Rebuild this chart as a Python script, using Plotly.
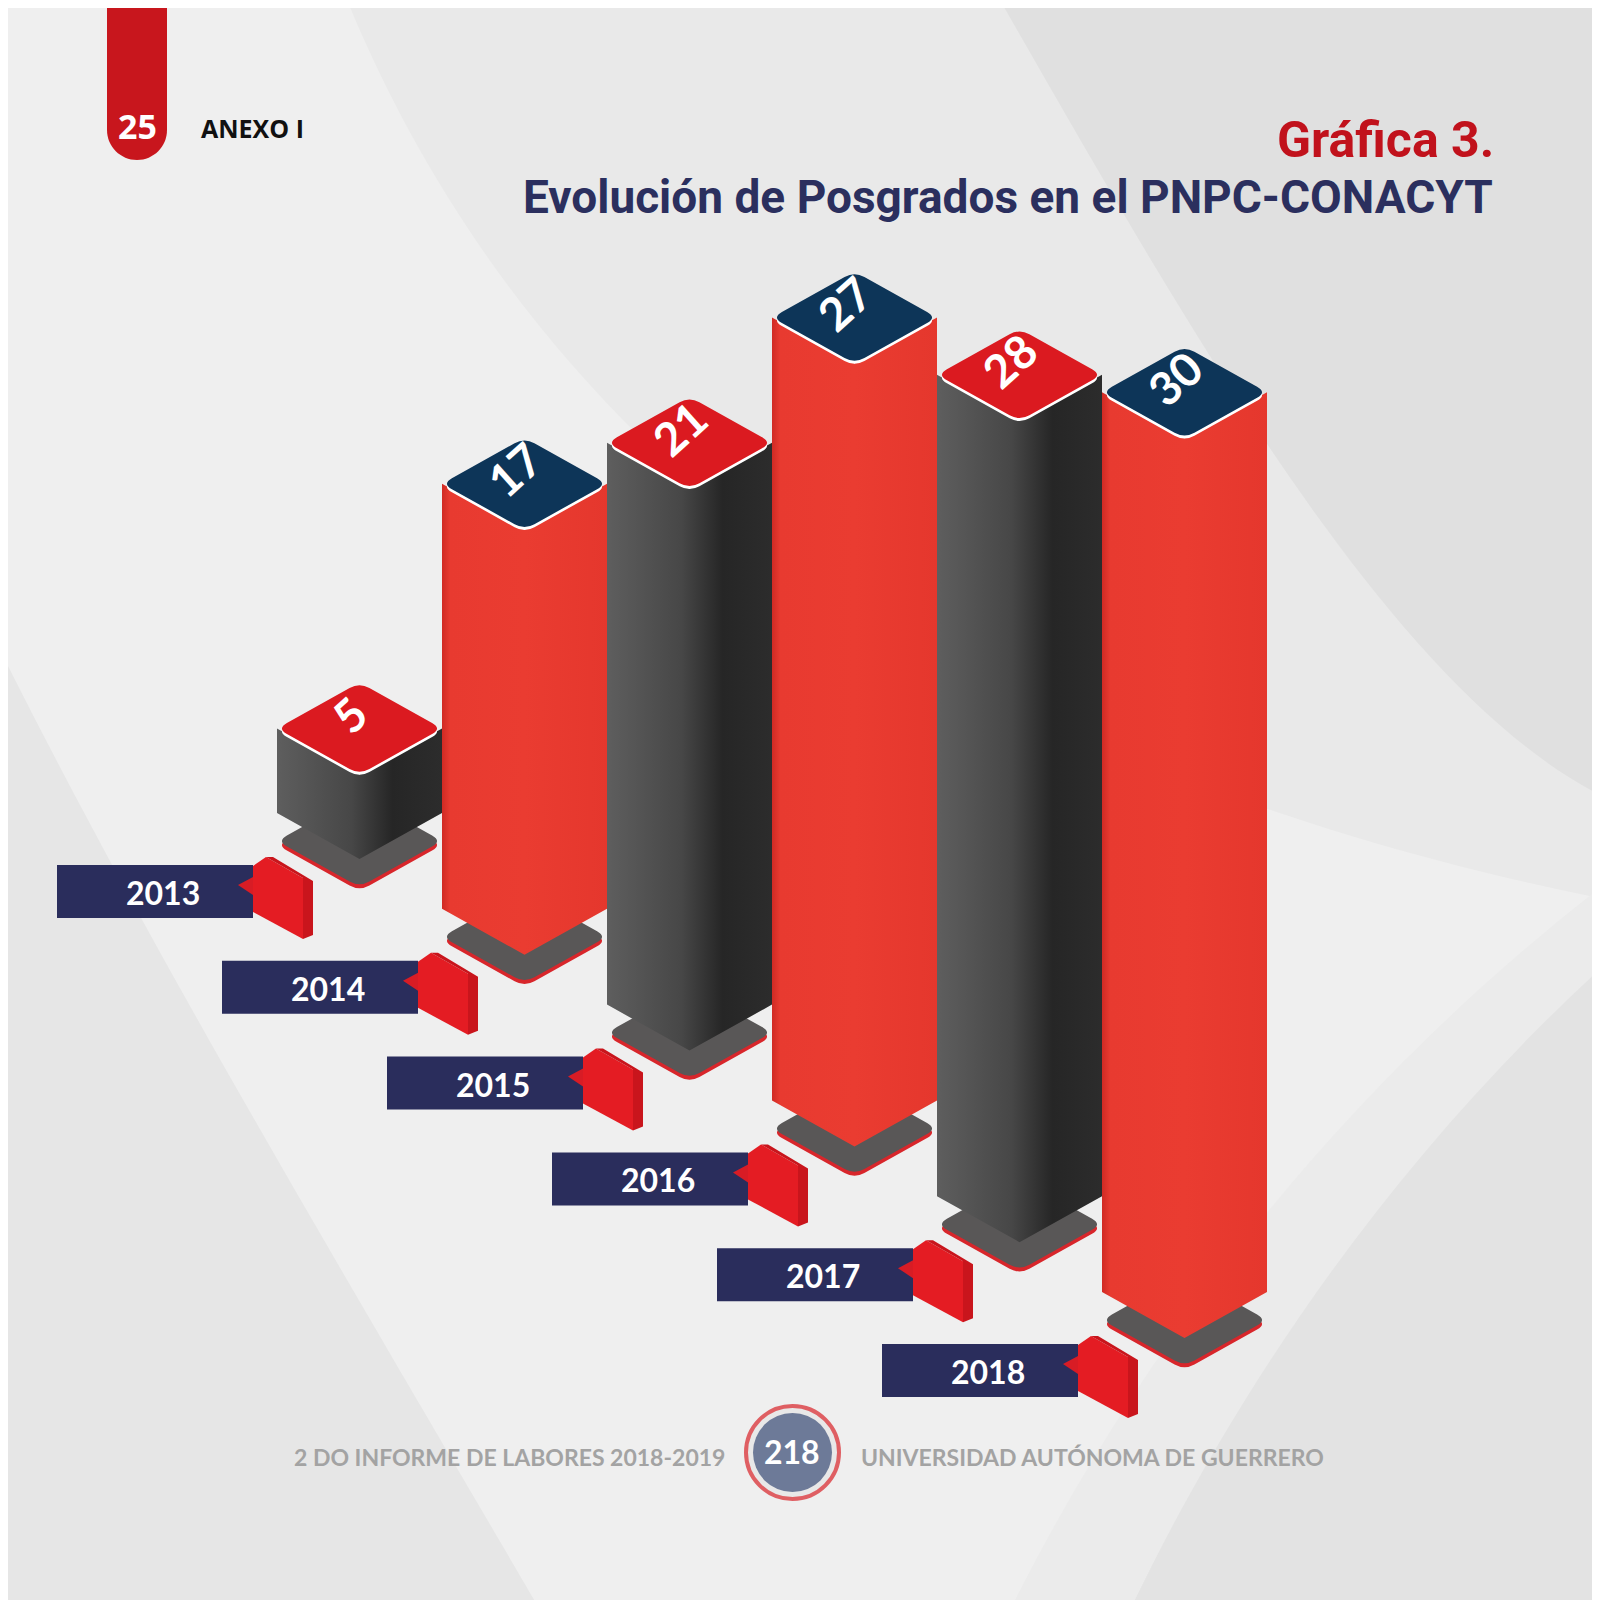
import plotly.graph_objects as go

# data
years = ["2013", "2014", "2015", "2016", "2017", "2018"]
values = [5, 17, 21, 27, 28, 30]

title_top = "Gráfica 3."
title_main = "Evolución de Posgrados en el PNPC-CONACYT"
footer_left = "2 DO INFORME DE LABORES 2018-2019"
footer_right = "UNIVERSIDAD AUTÓNOMA DE GUERRERO"
page_number = "218"
section_number = "25"
section_name = "ANEXO I"

# isometric layout (pixels)
X0, STEP_X = 277, 165
Y0, STEP_Y = 813, 95.8
HW, HH = 82.5, 46
SCALE_A, SCALE_EXP = 10.1, 1.32   # power scale used by the original drawing
PAGE_OFFSET = 8                   # browser body margin

RED = "#e83a30"
NAVY = "#0d3558"
DARK = "#3c3c3c"
LABEL_NAVY = "#2a2d5c"


def height(v):
    return SCALE_A * v ** SCALE_EXP


def rounded_poly(pts, f=0.12):
    # svg path of a polygon with rounded corners
    n = len(pts)
    d = ""
    for k in range(n):
        px, py = pts[k - 1]
        cx, cy = pts[k]
        nx, ny = pts[(k + 1) % n]
        a = (cx + f * (px - cx), cy + f * (py - cy))
        b = (cx + f * (nx - cx), cy + f * (ny - cy))
        d += ("M" if k == 0 else "L") + f"{a[0]:.1f},{a[1]:.1f} Q{cx:.1f},{cy:.1f} {b[0]:.1f},{b[1]:.1f} "
    return d + "Z"


def diamond(cx, cy, hw=HW, hh=HH):
    return [(cx - hw, cy), (cx, cy - hh), (cx + hw, cy), (cx, cy + hh)]


fig = go.Figure()
shapes = []
annotations = []

# background swooshes
shapes.append(dict(type="path", layer="below", line_width=0, fillcolor="#e9e9e9",
                   path="M 347,0 C 520,420 900,760 1610,900 L 1610,0 Z"))
shapes.append(dict(type="path", layer="below", line_width=0, fillcolor="#e0e0e0",
                   path="M 1000,0 C 1200,350 1400,700 1610,800 L 1610,0 Z"))
shapes.append(dict(type="path", layer="below", line_width=0, fillcolor="#e6e6e6",
                   path="M 0,650 C 150,950 330,1250 540,1610 L 0,1610 Z"))
shapes.append(dict(type="path", layer="below", line_width=0, fillcolor="#ebebeb",
                   path="M 1610,880 C 1350,1080 1150,1330 1010,1610 L 1610,1610 Z"))
shapes.append(dict(type="path", layer="below", line_width=0, fillcolor="#e3e3e3",
                   path="M 1610,960 C 1400,1150 1240,1380 1130,1610 L 1610,1610 Z"))

for i, (yr, v) in enumerate(zip(years, values)):
    L = X0 + i * STEP_X
    C = L + HW
    R = L + 2 * HW
    yb = Y0 + i * STEP_Y
    yt = yb - height(v)
    dark_body = i % 2 == 0

    # pedestal plate
    shapes.append(dict(type="path", layer="below", line_width=0, fillcolor="#d8262b",
                       path=rounded_poly(diamond(C, yb + 32))))
    shapes.append(dict(type="path", layer="below", line_width=0, fillcolor="#595757",
                       path=rounded_poly(diamond(C, yb + 28))))

    # bar body
    bx = [L, C, R, R, C, L, L]
    by = [yt, yt + HH, yt, yb, yb + HH, yb, yt]
    if dark_body:
        scale = [[0, "#5e5e5e"], [0.45, "#474747"], [0.7, "#262626"], [1, "#2c2c2c"]]
    else:
        scale = [[0, "#d02a24"], [0.05, "#e83a30"], [0.5, "#ea3c31"], [1, "#e5372d"]]
    fig.add_trace(go.Scatter(x=bx, y=by, mode="lines", line=dict(width=0),
                             fill="toself", fillcolor=DARK if dark_body else RED,
                             fillgradient=dict(type="horizontal", colorscale=scale),
                             hoverinfo="skip", showlegend=False))

    # top face with white lower rim
    top_color = "#db1a20" if dark_body else NAVY
    shapes.append(dict(type="path", layer="above", line_width=0, fillcolor="white",
                       path=rounded_poly(diamond(C, yt + 3))))
    shapes.append(dict(type="path", layer="above", line_width=0, fillcolor=top_color,
                       path=rounded_poly(diamond(C, yt))))
    annotations.append(dict(x=C - 10, y=yt - 14, xref="x", yref="y", text=f"<b>{v}</b>",
                            showarrow=False, textangle=-42,
                            font=dict(family="Lato", size=46, color="white")))

    # year tag
    rx1 = L - 24
    rx0 = rx1 - 196
    ry0 = yb + 52
    ry1 = ry0 + 53
    shapes.append(dict(type="rect", layer="above", line_width=0, fillcolor=LABEL_NAVY,
                       x0=rx0, x1=rx1, y0=ry0, y1=ry1))
    shapes.append(dict(type="path", layer="above", line_width=0, fillcolor="#d81c25",
                       path=f"M {rx1},{ry0 + 12} L {rx1 - 15},{ry0 + 20} L {rx1},{ry0 + 30} Z"))
    shapes.append(dict(type="path", layer="above", line_width=0, fillcolor="#e41c23",
                       path=(f"M {rx1},{ry0 + 1} L {rx1 + 13},{ry0 - 8} L {rx1 + 50},{ry0 + 13} "
                             f"L {rx1 + 50},{ry0 + 74} L {rx1},{ry0 + 47} Z")))
    shapes.append(dict(type="path", layer="above", line_width=0, fillcolor="#c9151c",
                       path=(f"M {rx1 + 50},{ry0 + 13} L {rx1 + 13},{ry0 - 8} L {rx1 + 20},{ry0 - 8} "
                             f"L {rx1 + 60},{ry0 + 16} L {rx1 + 60},{ry0 + 70} L {rx1 + 50},{ry0 + 74} Z")))
    annotations.append(dict(x=(rx0 + rx1) / 2 + 8, y=(ry0 + ry1) / 2 + 1, xref="x", yref="y",
                            text=f"<b>{yr}</b>", showarrow=False,
                            font=dict(family="Lato", size=32, color="white")))

# header tab
shapes.append(dict(type="path", layer="above", line_width=0, fillcolor="#c8161d",
                   path="M 107,-5 L 107,130 C 107,146.5 120.4,160 137,160 C 153.6,160 167,146.5 167,130 L 167,-5 Z"))
annotations.append(dict(x=137, y=126, xref="x", yref="y", text=f"<b>{section_number}</b>",
                        showarrow=False, font=dict(family="Open Sans", size=34, color="white")))
annotations.append(dict(x=199, y=128, xref="x", yref="y", xanchor="left", text=f"<b>{section_name}</b>",
                        showarrow=False, font=dict(family="Open Sans", size=25, color="#111111")))

# titles
annotations.append(dict(x=1496, y=140, xref="x", yref="y", xanchor="right", text=f"<b>{title_top}</b>",
                        showarrow=False, font=dict(family="Roboto", size=50, color="#c1121c")))
annotations.append(dict(x=1495, y=197, xref="x", yref="y", xanchor="right", text=f"<b>{title_main}</b>",
                        showarrow=False, font=dict(family="Roboto", size=46, color="#2b2f5e")))

# footer
shapes.append(dict(type="circle", layer="above", xref="x", yref="y", x0=746, x1=839, y0=1406, y1=1499,
                   fillcolor="#e8e8e8", line=dict(color="#df5f63", width=4)))
shapes.append(dict(type="circle", layer="above", xref="x", yref="y", x0=753, x1=832, y0=1413, y1=1492,
                   fillcolor="#6d7a98", line_width=0))
annotations.append(dict(x=792, y=1451, xref="x", yref="y", text=f"<b>{page_number}</b>", showarrow=False,
                        font=dict(family="Lato", size=32, color="white")))
annotations.append(dict(x=727, y=1457, xref="x", yref="y", xanchor="right", text=f"<b>{footer_left}</b>",
                        showarrow=False, font=dict(family="Lato", size=23, color="#a3a3a3")))
annotations.append(dict(x=859, y=1457, xref="x", yref="y", xanchor="left", text=f"<b>{footer_right}</b>",
                        showarrow=False, font=dict(family="Lato", size=23, color="#a3a3a3")))

fig.update_layout(
    width=1600, height=1600,
    margin=dict(l=0, r=0, t=0, b=0),
    paper_bgcolor="#efefef", plot_bgcolor="#efefef",
    xaxis=dict(range=[PAGE_OFFSET, 1600 + PAGE_OFFSET], visible=False, fixedrange=True),
    yaxis=dict(range=[1600 + PAGE_OFFSET, PAGE_OFFSET], visible=False, fixedrange=True),
    shapes=shapes, annotations=annotations,
    showlegend=False,
)

fig.write_html("out.html")
